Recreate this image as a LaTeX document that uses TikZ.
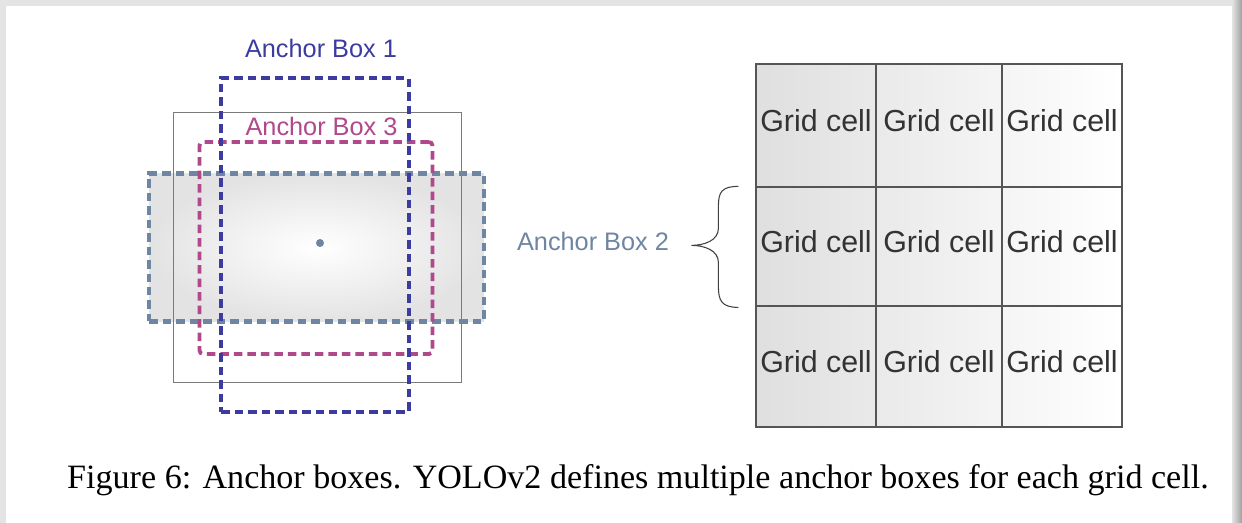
\documentclass[tikz,border=0pt]{standalone}
\usepackage{fontspec}
\setmainfont{Liberation Serif}
\setsansfont{Liberation Sans}
\usetikzlibrary{positioning}
\definecolor{anchorBlue}{HTML}{3C3CA0}
\definecolor{anchorPink}{HTML}{B0488C}
\definecolor{anchorSlate}{HTML}{6E86A2}
\definecolor{gridLine}{HTML}{555555}
\definecolor{frameGray}{HTML}{7A7A7A}
\definecolor{shadowGray}{HTML}{E4E4E4}

\begin{document}
\begin{tikzpicture}[x=0.02cm, y=-0.02cm,
  anchorbox/.style={rectangle, inner sep=0pt, line width=2.6pt, dash pattern=on 0.17cm off 0.1cm},
  boxlabel/.style={anchor=base, inner sep=0pt, font=\sffamily\fontsize{14.4}{16}\selectfont},
  cell/.style={rectangle, draw=gridLine, line width=0.7pt, inner sep=0pt, text height=0.24cm, text depth=0pt, font=\sffamily\fontsize{17.3}{19}\selectfont, text=black!80},
  brace/.style={draw=black!75, line width=0.6pt},
  caption/.style={anchor=base, inner sep=0pt, font=\fontsize{19.4}{23}\selectfont}
]
% page and window shadow
\fill[shadowGray] (0,0) rectangle (1242,523);
\fill[white] (6,6) rectangle (1232,523);
\shade[left color=shadowGray, right color=gray!75] (1232,0) rectangle (1242,523);

% anchor boxes round one centre
\shade[inner color=white, outer color=gray!22] (149,174) rectangle (484,322);
\node[rectangle, draw=frameGray, line width=0.5pt, minimum width=5.76cm, minimum height=5.40cm] (truth) at (317,247) {};
\node[anchorbox, draw=anchorSlate, minimum width=6.70cm, minimum height=2.96cm] (ab2) at (316.5,247.5) {};
\node[anchorbox, draw=anchorPink, line width=2.2pt, rounded corners=2pt, minimum width=4.66cm, minimum height=4.24cm] (ab3) at (316,248) {};
\node[anchorbox, draw=anchorBlue, minimum width=3.76cm, minimum height=6.68cm] (ab1) at (315,245) {};
\fill[anchorSlate] (320,243) circle (0.08cm) coordinate (centre);

\node[boxlabel, text=anchorBlue] (lab1) at (321,58) {Anchor Box 1};
\node[boxlabel, text=anchorPink] (lab3) at (321.5,136) {Anchor Box 3};

% grid of cells
\shade[left color=gray!25, right color=white] (756,64) rectangle (1122,427);
\foreach \cy/\h [count=\r] in {125.5/2.46, 246.5/2.38, 366.5/2.42}
  \foreach \cx/\w [count=\c] in {816/2.40, 939/2.52, 1062/2.40}
    \node[cell, minimum width=\w cm, minimum height=\h cm] (c\r\c) at (\cx,\cy) {Grid cell};

% brace from the middle row
\coordinate (braceTop) at ([xshift=-0.34cm]c21.north west);
\draw[brace] (braceTop) .. controls +(-17,0) and +(0,-14) .. ++(-20,20) -- ++(0,22)
  .. controls +(0,12) and +(13,0) .. ++(-27,17) coordinate (braceTip)
  .. controls +(13,0) and +(0,-12) .. ++(27,17) -- ++(0,24)
  .. controls +(0,14) and +(-17,0) .. ++(20,21);
\node[boxlabel, text=anchorSlate] (lab2) at (593,251) {Anchor Box 2};

\node[caption] (cap) at (638,489) {Figure 6: Anchor boxes. YOLOv2 defines multiple anchor boxes for each grid cell.};
\end{tikzpicture}
\end{document}
